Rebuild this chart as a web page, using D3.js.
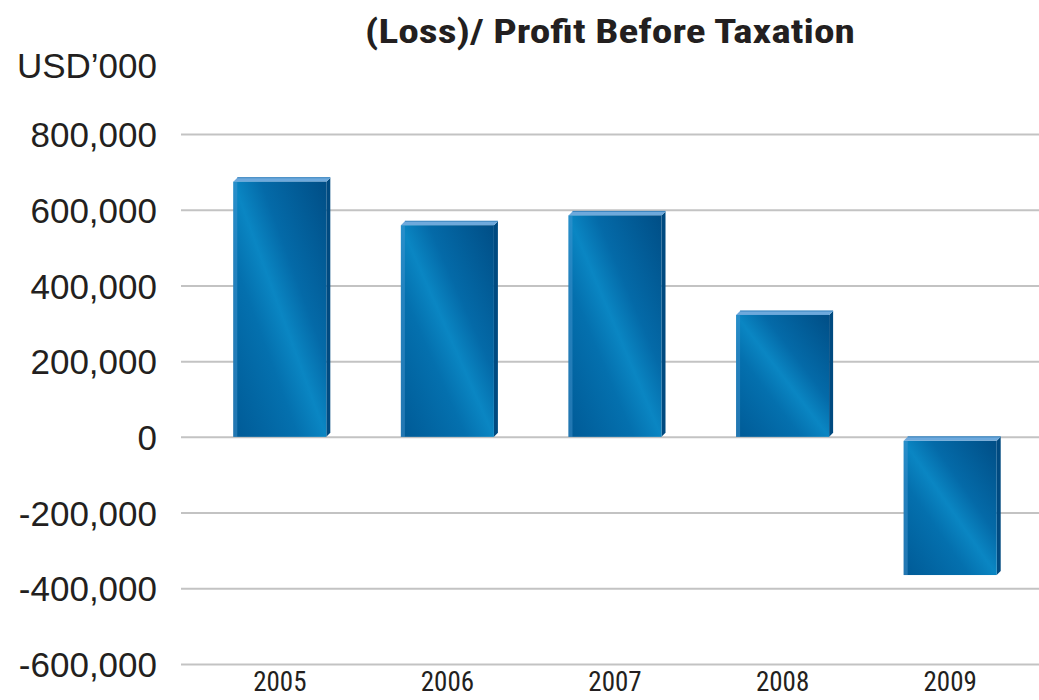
<!DOCTYPE html>
<html>
<head>
<meta charset="utf-8">
<script src="https://cdn.jsdelivr.net/npm/d3@7"></script>
<style>
  html, body { margin: 0; padding: 0; background: #ffffff; }
  svg { display: block; }
</style>
</head>
<body>
<svg id="chart" width="1039" height="700"></svg>
<script>
// ---- data ----
const years = ["2005", "2006", "2007", "2008", "2009"];
const profitValues = [674000, 559000, 585000, 322000, -365000];
const yTicks = [-600000, -400000, -200000, 0, 200000, 400000, 600000, 800000];
const titleText = "(Loss)/ Profit Before Taxation";
const unitText = "USD\u2019000";

// ---- layout ----
const gridLeft = 181, gridRight = 1039;
const depth = 4;
const svg = d3.select("#chart");

const y = d3.scaleLinear().domain([-600000, 800000]).range([664, 134]);
const x = d3.scaleBand().domain(years).range([196, 1034])
  .paddingInner(0.445).paddingOuter(0.2225);

const defs = svg.append("defs");
const grad = defs.append("linearGradient").attr("id", "frontGrad")
  .attr("x1", 0).attr("y1", 1).attr("x2", 1).attr("y2", 0);
[["0%", "#005a96"], ["35%", "#0470ae"], ["50%", "#0a86c3"], ["65%", "#046aa8"], ["100%", "#004e86"]]
  .forEach(([o, c]) => grad.append("stop").attr("offset", o).attr("stop-color", c));

// ---- y axis with gridlines ----
const fmt = d => d === 0 ? "0" : d3.format(",")(d).replace("\u2212", "-");
const yAxis = svg.append("g")
  .attr("transform", `translate(${gridLeft},0)`)
  .call(d3.axisLeft(y).tickValues(yTicks).tickFormat(fmt)
    .tickSize(-(gridRight - gridLeft)).tickPadding(24));
yAxis.select(".domain").remove();
yAxis.selectAll(".tick line").attr("stroke", "#c3c3c3").attr("stroke-width", 2);
yAxis.selectAll(".tick text")
  .attr("fill", "#231f20")
  .style("font-family", "'Liberation Sans', Arial, sans-serif")
  .style("font-size", "35px")
  .attr("dy", "0.36em");

// ---- x axis ----
const xAxis = svg.append("g")
  .attr("transform", `translate(0,664)`)
  .call(d3.axisBottom(x).tickSize(0).tickPadding(8));
xAxis.select(".domain").remove();
xAxis.selectAll(".tick text")
  .attr("fill", "#231f20")
  .style("font-family", "'Liberation Sans Narrow', 'Roboto Condensed', 'DejaVu Sans Condensed', sans-serif")
  .style("font-size", "27px");

// ---- bars (3D look) ----
const bars = svg.append("g").selectAll("g.bar")
  .data(years.map((yr, i) => ({ yr, v: profitValues[i] })))
  .join("g").attr("class", "bar");

bars.each(function(d) {
  const g = d3.select(this);
  const x0 = x(d.yr), x1 = x0 + x.bandwidth();
  const top = d.v >= 0 ? y(d.v) : y(0) + depth;
  const bot = d.v >= 0 ? y(0) : y(d.v);
  // side face
  g.append("path")
    .attr("d", `M${x1},${top} L${x1 + depth},${top - depth} L${x1 + depth},${bot - depth} L${x1},${bot} Z`)
    .attr("fill", "#004a80");
  // top face
  g.append("path")
    .attr("d", `M${x0},${top} L${x0 + depth},${top - depth} L${x1 + depth},${top - depth} L${x1},${top} Z`)
    .attr("fill", "#6ea9dc");
  g.append("path")
    .attr("d", `M${x0 + depth},${top - depth} L${x1 + depth},${top - depth}`)
    .attr("stroke", "#2f7fbd").attr("stroke-width", 1).attr("fill", "none");
  // front face
  g.append("rect")
    .attr("x", x0).attr("y", top)
    .attr("width", x1 - x0).attr("height", bot - top)
    .attr("fill", "url(#frontGrad)");
  // lighter left edge strip
  g.append("rect")
    .attr("x", x0).attr("y", top)
    .attr("width", 4).attr("height", bot - top)
    .attr("fill", "#4b9ad2").attr("opacity", 0.45);
});

// ---- texts ----
svg.append("text")
  .attr("x", 610).attr("y", 43)
  .attr("text-anchor", "middle")
  .attr("fill", "#231f20")
  .style("font-family", "'Liberation Sans Narrow', 'Roboto Condensed', 'Liberation Sans', sans-serif")
  .style("font-weight", "bold")
  .style("font-size", "33px")
  .attr("textLength", 490).attr("lengthAdjust", "spacingAndGlyphs")
  .text(titleText);

svg.append("text")
  .attr("x", 157).attr("y", 78)
  .attr("text-anchor", "end")
  .attr("fill", "#231f20")
  .style("font-family", "'Liberation Sans', Arial, sans-serif")
  .style("font-size", "35px")
  .text(unitText);
</script>
</body>
</html>
